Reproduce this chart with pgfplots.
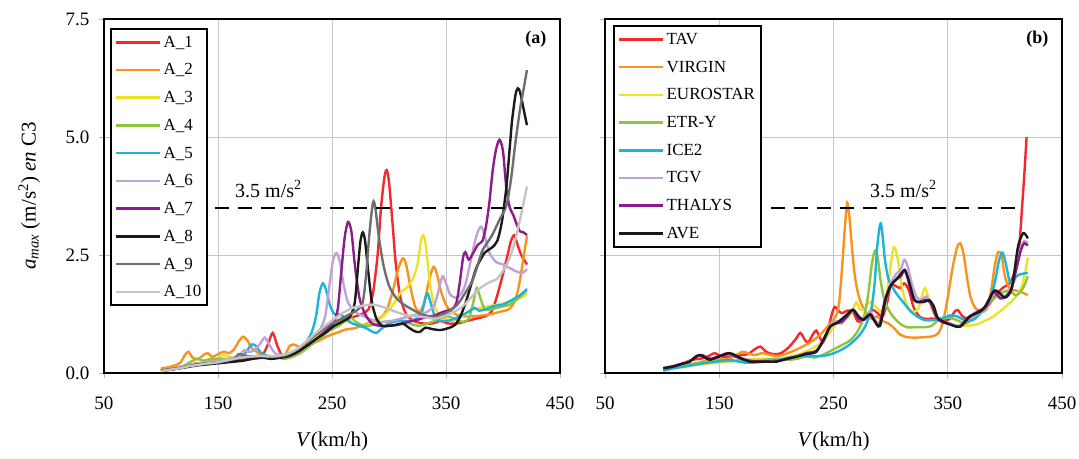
\documentclass[border=0pt]{standalone}
\usepackage{fontspec}
\setmainfont{Liberation Serif}
\usepackage{pgfplots}
\pgfplotsset{compat=1.18}
\definecolor{cR}{HTML}{F4282D}
\definecolor{cO}{HTML}{F7931E}
\definecolor{cY}{HTML}{EBE32A}
\definecolor{cG}{HTML}{8CC63E}
\definecolor{cC}{HTML}{1DB4DA}
\definecolor{cL}{HTML}{C0A2D8}
\definecolor{cP}{HTML}{8E1A8E}
\definecolor{cK}{HTML}{1A1A1A}
\definecolor{cD}{HTML}{6E6E6E}
\definecolor{cW}{HTML}{C4C4C4}
\pgfplotsset{
  base/.style={
    scale only axis, height=354pt,
    xmin=50, xmax=450, ymin=0, ymax=7.5,
    xtick={50,150,250,350,450}, ytick={0,2.5,5,7.5},
    xtick pos=bottom, ytick pos=left,
    grid=major, grid style={gray!45, line width=0.9pt},
    axis line style={line width=1.8pt},
    tick style={gray!60, line width=0.6pt}, major tick length=5pt, tick align=outside,
    ticklabel style={font=\fontsize{19}{21}\selectfont},
    /pgf/number format/assume math mode=true,
    yticklabel style={/pgf/number format/fixed, /pgf/number format/fixed zerofill, /pgf/number format/precision=1, xshift=-6pt},
    xticklabel style={yshift=-15pt},
    xlabel={\textit{V}(km/h)},
    xlabel style={font=\fontsize{21}{23}\selectfont, at={(axis description cs:0.5,0)}, anchor=center, yshift=-68pt},
    legend cell align=left,
    legend image code/.code={\draw[#1, line width=2.6pt] (0pt,0pt) -- (44pt,0pt);},
    every axis plot/.append style={line width=2.4pt, smooth, tension=0.45},
  }
}
\begin{document}
\begin{tikzpicture}[x=1pt,y=1pt]
\useasboundingbox (0,0) rectangle (1079,458);
% ---------------- panel (a)
\begin{axis}[base, at={(104pt,85pt)}, anchor=south west, width=456pt,
  ylabel={\textit{a}\textsubscript{\textit{max}} (m/s\textsuperscript{2}) \textit{en} C3},
  ylabel style={font=\fontsize{21}{23}\selectfont, at={(axis description cs:-0.164,0.5)}, anchor=center},
  legend style={at={(0.013,0.975)}, anchor=north west, draw=black, line width=2pt,
    font=\fontsize{17}{20}\selectfont, row sep=11pt, inner xsep=4pt, inner ysep=5pt}]
\addplot[cR] coordinates {(100,0.06)(108,0.08)(115,0.12)(122,0.15)(130,0.2)(138,0.22)(145,0.25)(152,0.26)(160,0.27)(168,0.3)(176,0.32)(184,0.35)(190,0.42)(194,0.62)(198,0.85)(202,0.58)(206,0.38)(212,0.33)(220,0.42)(228,0.58)(236,0.75)(244,0.9)(252,1.05)(260,1.12)(268,1.18)(276,1.25)(282,1.35)(286,1.7)(290,2.5)(293,3.5)(296,4.15)(298,4.3)(300,4.05)(303,3.2)(306,2.3)(310,1.6)(315,1.25)(322,1.1)(330,1.05)(338,1.05)(345,1.1)(352,1.05)(360,1.05)(368,1.1)(376,1.15)(384,1.2)(390,1.3)(395,1.65)(400,2.1)(404,2.5)(407,2.8)(410,2.92)(413,2.7)(416,2.5)(419,2.38)(421,2.3)};
\addlegendentry{A\_1}
\addplot[cO] coordinates {(100,0.1)(106,0.12)(112,0.16)(117,0.22)(121,0.38)(124,0.45)(128,0.32)(133,0.3)(137,0.38)(141,0.42)(145,0.34)(150,0.4)(155,0.45)(160,0.42)(164,0.5)(168,0.66)(172,0.77)(176,0.68)(180,0.52)(186,0.42)(194,0.36)(202,0.35)(209,0.4)(213,0.58)(217,0.6)(222,0.55)(230,0.6)(238,0.68)(246,0.78)(254,0.85)(262,0.92)(270,0.95)(278,1.02)(286,1.1)(294,1.2)(299,1.4)(304,1.8)(308,2.2)(312,2.43)(315,2.3)(319,1.8)(323,1.4)(327,1.3)(331,1.5)(335,1.95)(339,2.25)(342,2.1)(346,1.7)(351,1.4)(358,1.25)(366,1.2)(374,1.2)(382,1.22)(390,1.25)(398,1.3)(405,1.35)(410,1.5)(414,1.85)(418,2.45)(421,2.9)};
\addlegendentry{A\_2}
\addplot[cY] coordinates {(100,0.05)(108,0.08)(116,0.12)(124,0.17)(132,0.2)(140,0.22)(148,0.27)(154,0.38)(158,0.36)(164,0.32)(172,0.32)(180,0.35)(188,0.36)(196,0.35)(204,0.36)(212,0.4)(220,0.5)(228,0.62)(236,0.78)(244,0.92)(252,1.02)(260,1.1)(268,1.05)(276,1.0)(284,1.05)(292,1.15)(299,1.3)(305,1.5)(310,1.7)(316,1.82)(321,2.0)(325,2.3)(328,2.8)(330,2.92)(332,2.75)(335,2.1)(338,1.6)(342,1.3)(348,1.15)(356,1.1)(364,1.2)(372,1.35)(380,1.38)(388,1.42)(396,1.45)(404,1.5)(412,1.55)(418,1.62)(421,1.68)};
\addlegendentry{A\_3}
\addplot[cG] coordinates {(100,0.05)(108,0.08)(116,0.11)(122,0.18)(127,0.25)(132,0.3)(137,0.26)(144,0.3)(152,0.3)(160,0.3)(168,0.32)(176,0.35)(184,0.36)(192,0.35)(200,0.35)(208,0.3)(216,0.35)(224,0.45)(232,0.6)(240,0.75)(248,0.9)(256,1.0)(262,1.12)(266,1.2)(270,1.1)(278,1.0)(286,1.02)(294,1.08)(302,1.1)(310,1.12)(318,1.05)(326,1.0)(334,1.05)(342,1.12)(350,1.2)(358,1.15)(365,1.08)(370,1.15)(374,1.5)(377,1.8)(380,1.6)(384,1.35)(390,1.35)(398,1.4)(406,1.45)(414,1.6)(421,1.75)};
\addlegendentry{A\_4}
\addplot[cC] coordinates {(100,0.05)(108,0.07)(116,0.1)(124,0.14)(132,0.18)(140,0.2)(148,0.22)(156,0.25)(164,0.27)(170,0.32)(175,0.45)(179,0.6)(183,0.58)(188,0.42)(195,0.35)(203,0.34)(211,0.36)(219,0.45)(226,0.6)(232,0.85)(236,1.2)(239,1.7)(242,1.9)(245,1.75)(248,1.45)(252,1.25)(257,1.25)(262,1.15)(268,1.05)(274,1.0)(280,0.95)(285,0.88)(289,0.85)(294,0.95)(300,1.05)(308,1.1)(316,1.1)(324,1.15)(329,1.3)(332,1.6)(334,1.68)(337,1.45)(341,1.15)(347,1.1)(354,1.12)(362,1.2)(370,1.3)(375,1.38)(379,1.32)(385,1.35)(392,1.42)(400,1.45)(408,1.55)(415,1.65)(421,1.78)};
\addlegendentry{A\_5}
\addplot[cL] coordinates {(100,0.05)(108,0.08)(116,0.12)(124,0.16)(132,0.2)(140,0.22)(148,0.25)(156,0.28)(163,0.32)(168,0.35)(173,0.48)(177,0.45)(182,0.48)(187,0.62)(191,0.75)(195,0.6)(200,0.42)(207,0.38)(215,0.42)(223,0.55)(231,0.72)(239,0.9)(244,1.2)(248,1.9)(251,2.4)(254,2.54)(257,2.35)(260,1.9)(264,1.5)(270,1.3)(278,1.2)(286,1.12)(294,1.08)(302,1.1)(310,1.15)(318,1.2)(326,1.25)(334,1.3)(340,1.45)(344,1.8)(347,2.05)(350,1.9)(354,1.65)(360,1.6)(366,1.8)(371,2.3)(375,2.75)(378,3.0)(381,3.1)(384,2.9)(388,2.55)(394,2.35)(400,2.3)(406,2.22)(412,2.15)(417,2.12)(421,2.2)};
\addlegendentry{A\_6}
\addplot[cP] coordinates {(100,0.05)(108,0.07)(116,0.1)(124,0.14)(132,0.18)(140,0.2)(148,0.22)(156,0.24)(164,0.26)(172,0.28)(180,0.3)(188,0.32)(196,0.33)(204,0.35)(212,0.36)(220,0.45)(228,0.58)(236,0.72)(244,0.88)(251,1.05)(255,1.35)(258,2.1)(261,2.85)(264,3.2)(267,3.0)(270,2.3)(274,1.6)(279,1.25)(285,1.05)(292,1.0)(300,1.0)(308,1.02)(316,1.08)(324,1.12)(332,1.18)(340,1.22)(348,1.3)(355,1.35)(359,1.48)(362,1.9)(365,2.45)(367,2.56)(370,2.4)(374,2.55)(378,2.72)(382,2.8)(385,3.1)(388,3.6)(391,4.3)(394,4.75)(397,4.94)(400,4.7)(403,3.9)(406,3.5)(409,3.35)(412,3.15)(415,3.0)(418,2.98)(421,2.92)};
\addlegendentry{A\_7}
\addplot[cK] coordinates {(100,0.05)(108,0.07)(116,0.1)(124,0.13)(132,0.16)(140,0.18)(148,0.2)(156,0.22)(164,0.24)(172,0.26)(180,0.3)(188,0.33)(196,0.3)(204,0.32)(212,0.36)(220,0.45)(228,0.58)(236,0.72)(244,0.85)(252,1.0)(260,1.1)(266,1.2)(270,1.5)(273,2.3)(275,2.8)(277,2.98)(279,2.8)(282,2.1)(285,1.5)(289,1.15)(294,1.0)(300,1.0)(306,1.02)(312,1.05)(318,0.95)(323,0.88)(327,0.87)(332,0.96)(338,0.93)(345,0.91)(352,0.95)(358,1.02)(363,1.22)(368,1.55)(373,1.95)(377,2.25)(384,2.55)(390,2.65)(395,2.8)(399,3.2)(403,3.95)(406,4.8)(408,5.36)(411,5.9)(413,6.03)(415,5.95)(418,5.6)(421,5.25)};
\addlegendentry{A\_8}
\addplot[cD] coordinates {(100,0.05)(108,0.08)(116,0.11)(124,0.15)(132,0.18)(140,0.2)(148,0.22)(156,0.25)(164,0.3)(168,0.4)(172,0.38)(178,0.35)(186,0.36)(194,0.35)(202,0.35)(210,0.38)(218,0.48)(226,0.62)(234,0.78)(242,0.92)(250,1.05)(258,1.15)(266,1.25)(273,1.35)(277,1.5)(280,2.1)(283,3.0)(286,3.62)(288,3.5)(291,2.9)(295,2.3)(300,1.85)(306,1.6)(313,1.45)(320,1.35)(328,1.25)(336,1.2)(344,1.2)(352,1.3)(360,1.45)(367,1.7)(373,1.95)(378,2.3)(382,2.6)(390,2.9)(397,3.25)(403,3.55)(407,4.1)(411,4.9)(415,5.6)(418,6.0)(421,6.42)};
\addlegendentry{A\_9}
\addplot[cW] coordinates {(100,0.04)(108,0.07)(116,0.1)(124,0.14)(132,0.17)(140,0.2)(148,0.22)(156,0.26)(164,0.3)(172,0.33)(180,0.35)(188,0.36)(196,0.35)(204,0.37)(212,0.42)(220,0.52)(228,0.68)(236,0.85)(244,1.0)(252,1.15)(260,1.28)(268,1.38)(276,1.42)(284,1.45)(292,1.42)(300,1.35)(308,1.28)(316,1.22)(324,1.2)(332,1.18)(340,1.15)(348,1.2)(356,1.28)(364,1.4)(372,1.6)(380,1.8)(388,1.92)(395,2.0)(401,2.2)(406,2.45)(410,2.75)(414,3.15)(418,3.6)(421,3.95)};
\addlegendentry{A\_10}
\addplot[black, line width=2.2pt, dash pattern=on 14pt off 9pt, sharp plot, forget plot] coordinates {(147,3.5)(417,3.5)};
\node[anchor=base west, font=\fontsize{20}{22}\selectfont] at (axis cs:162,3.72) {3.5 m/s\textsuperscript{2}};
\node[anchor=north east, font=\fontsize{18}{20}\selectfont\bfseries] at (rel axis cs:0.978,0.975) {(a)};
\end{axis}
% ---------------- panel (b)
\begin{axis}[base, at={(605pt,85pt)}, anchor=south west, width=457pt,
  yticklabels={},
  legend style={at={(0.0175,0.983)}, anchor=north west, draw=black, line width=2pt,
    font=\fontsize{17}{20}\selectfont, row sep=11pt, inner xsep=4pt, inner ysep=5pt}]
\addplot[cR] coordinates {(101,0.1)(110,0.15)(118,0.2)(126,0.28)(133,0.3)(140,0.35)(146,0.42)(152,0.35)(160,0.35)(168,0.38)(175,0.4)(181,0.5)(186,0.56)(191,0.45)(197,0.4)(204,0.42)(211,0.55)(217,0.72)(221,0.85)(225,0.7)(228,0.65)(232,0.82)(235,0.9)(238,0.75)(241,0.65)(245,0.9)(248,1.2)(251,1.4)(255,1.3)(258,1.27)(262,1.32)(267,1.3)(271,1.1)(275,1.1)(280,1.25)(284,1.34)(288,1.28)(293,1.2)(297,1.5)(300,1.85)(304,1.85)(308,1.8)(312,1.9)(316,1.75)(320,1.4)(325,1.2)(330,1.15)(338,1.15)(345,1.1)(352,1.15)(356,1.3)(359,1.33)(363,1.2)(368,1.15)(374,1.25)(380,1.35)(386,1.45)(392,1.65)(398,1.8)(404,1.9)(408,2.1)(411,2.35)(413,2.8)(415,3.5)(417,4.2)(419,5.0)};
\addlegendentry{TAV}
\addplot[cO] coordinates {(101,0.08)(110,0.12)(120,0.17)(128,0.2)(135,0.24)(142,0.28)(150,0.3)(158,0.3)(165,0.38)(170,0.45)(175,0.42)(181,0.38)(188,0.42)(195,0.38)(202,0.36)(210,0.42)(218,0.5)(226,0.6)(234,0.72)(241,0.88)(247,1.05)(252,1.2)(255,1.5)(258,2.4)(260,3.1)(262,3.6)(264,3.3)(266,2.7)(269,2.0)(273,1.55)(278,1.3)(283,1.15)(288,1.2)(293,1.1)(298,1.05)(303,0.95)(308,0.82)(314,0.76)(322,0.75)(330,0.76)(337,0.78)(342,0.85)(346,1.1)(350,1.6)(354,2.2)(358,2.65)(361,2.75)(364,2.5)(367,2.0)(370,1.6)(374,1.38)(379,1.3)(384,1.35)(388,1.75)(391,2.25)(394,2.56)(397,2.5)(400,2.05)(404,1.8)(409,1.75)(414,1.72)(420,1.65)};
\addlegendentry{VIRGIN}
\addplot[cY] coordinates {(101,0.05)(110,0.1)(120,0.13)(130,0.17)(140,0.2)(150,0.22)(160,0.25)(170,0.27)(180,0.3)(190,0.3)(200,0.3)(210,0.34)(220,0.4)(230,0.5)(238,0.62)(245,0.8)(251,1.0)(257,1.1)(263,1.18)(267,1.35)(270,1.5)(273,1.35)(277,1.35)(281,1.5)(285,1.45)(289,1.35)(293,1.3)(296,1.55)(299,2.1)(302,2.6)(304,2.65)(307,2.3)(310,1.8)(314,1.45)(319,1.3)(324,1.35)(327,1.6)(330,1.8)(333,1.6)(337,1.3)(342,1.15)(350,1.05)(358,1.0)(366,1.0)(374,1.02)(382,1.1)(390,1.2)(398,1.35)(405,1.5)(411,1.65)(415,1.85)(418,2.15)(420,2.45)};
\addlegendentry{EUROSTAR}
\addplot[cG] coordinates {(101,0.08)(110,0.12)(120,0.15)(130,0.2)(140,0.22)(150,0.25)(160,0.25)(170,0.27)(180,0.25)(190,0.28)(200,0.3)(210,0.28)(218,0.3)(226,0.35)(234,0.33)(242,0.4)(250,0.5)(258,0.6)(265,0.7)(271,0.88)(276,1.15)(280,1.6)(283,2.2)(285,2.5)(287,2.6)(289,2.4)(291,2.0)(294,1.6)(298,1.35)(302,1.2)(308,1.05)(314,0.97)(322,0.97)(330,0.97)(336,1.0)(343,1.15)(350,1.18)(358,1.12)(366,1.05)(374,1.2)(382,1.4)(388,1.52)(394,1.65)(399,1.72)(404,1.75)(409,1.65)(413,1.7)(417,1.85)(420,2.05)};
\addlegendentry{ETR-Y}
\addplot[cC] coordinates {(101,0.05)(110,0.1)(120,0.14)(130,0.18)(140,0.22)(150,0.25)(158,0.28)(165,0.25)(172,0.22)(180,0.22)(190,0.24)(200,0.27)(210,0.32)(220,0.36)(230,0.36)(240,0.36)(248,0.4)(256,0.48)(264,0.6)(272,0.78)(278,1.0)(283,1.35)(286,1.9)(288,2.6)(290,3.05)(291.5,3.17)(293,2.9)(295,2.4)(298,2.0)(302,1.8)(306,1.65)(311,1.5)(317,1.32)(323,1.2)(330,1.12)(337,1.12)(345,1.15)(352,1.22)(358,1.2)(365,1.12)(372,1.12)(380,1.3)(386,1.5)(391,1.9)(395,2.4)(398,2.55)(401,2.3)(404,1.95)(407,1.9)(410,2.05)(415,2.1)(420,2.12)};
\addlegendentry{ICE2}
\addplot[cL] coordinates {(101,0.1)(110,0.15)(118,0.2)(124,0.25)(130,0.35)(135,0.36)(142,0.3)(150,0.35)(158,0.42)(165,0.35)(172,0.3)(180,0.26)(190,0.25)(200,0.25)(210,0.3)(218,0.36)(226,0.4)(235,0.48)(242,0.7)(247,1.0)(252,1.1)(257,1.05)(262,1.2)(267,1.35)(272,1.2)(277,1.15)(282,1.3)(286,1.15)(290,1.05)(295,1.5)(300,1.9)(305,2.1)(309,2.2)(312,2.4)(315,2.25)(319,1.85)(323,1.6)(327,1.55)(331,1.62)(335,1.5)(340,1.2)(345,1.1)(352,1.05)(360,1.0)(368,1.15)(376,1.25)(384,1.4)(390,1.7)(396,1.6)(401,1.65)(406,1.85)(410,2.3)(414,2.65)(417,2.8)(420,2.75)};
\addlegendentry{TGV}
\addplot[cP] coordinates {(101,0.1)(110,0.14)(118,0.2)(124,0.24)(130,0.36)(135,0.38)(142,0.3)(150,0.36)(158,0.42)(165,0.34)(172,0.28)(180,0.25)(190,0.24)(200,0.25)(210,0.3)(218,0.35)(226,0.42)(235,0.47)(242,0.72)(247,0.98)(252,1.05)(257,1.08)(262,1.2)(267,1.33)(272,1.15)(277,1.13)(282,1.25)(286,1.1)(290,1.0)(295,1.55)(300,1.85)(305,1.98)(309,2.05)(312,2.18)(315,2.0)(319,1.6)(323,1.5)(327,1.52)(331,1.55)(335,1.48)(340,1.18)(345,1.08)(352,1.03)(360,0.98)(368,1.18)(376,1.3)(384,1.42)(390,1.72)(396,1.58)(401,1.62)(406,1.8)(410,2.2)(414,2.6)(417,2.75)(420,2.7)};
\addlegendentry{THALYS}
\addplot[cK] coordinates {(101,0.1)(110,0.14)(118,0.2)(124,0.24)(129,0.33)(133,0.38)(138,0.32)(142,0.28)(150,0.35)(159,0.42)(166,0.35)(172,0.28)(177,0.24)(185,0.24)(193,0.24)(200,0.24)(209,0.3)(218,0.35)(226,0.4)(235,0.45)(241,0.7)(247,0.98)(254,1.08)(261,1.22)(267,1.34)(272,1.2)(276,1.13)(282,1.24)(286,1.1)(290.7,1.0)(295,1.5)(299.5,1.83)(305.5,2.0)(309,2.1)(312.6,2.18)(316,1.95)(321,1.55)(328,1.5)(334,1.54)(338,1.4)(341.5,1.16)(350,1.05)(360.7,0.98)(369.5,1.2)(381,1.35)(391,1.75)(400,1.6)(406,1.8)(411.5,2.68)(416,2.96)(419,2.9)(420,2.85)};
\addlegendentry{AVE}
\addplot[black, line width=2.2pt, dash pattern=on 14pt off 9pt, sharp plot, forget plot] coordinates {(195,3.5)(416,3.5)};
\node[anchor=base west, font=\fontsize{20}{22}\selectfont] at (axis cs:279,3.72) {3.5 m/s\textsuperscript{2}};
\node[anchor=north east, font=\fontsize{18}{20}\selectfont\bfseries] at (rel axis cs:0.978,0.975) {(b)};
\end{axis}
\end{tikzpicture}
\end{document}
